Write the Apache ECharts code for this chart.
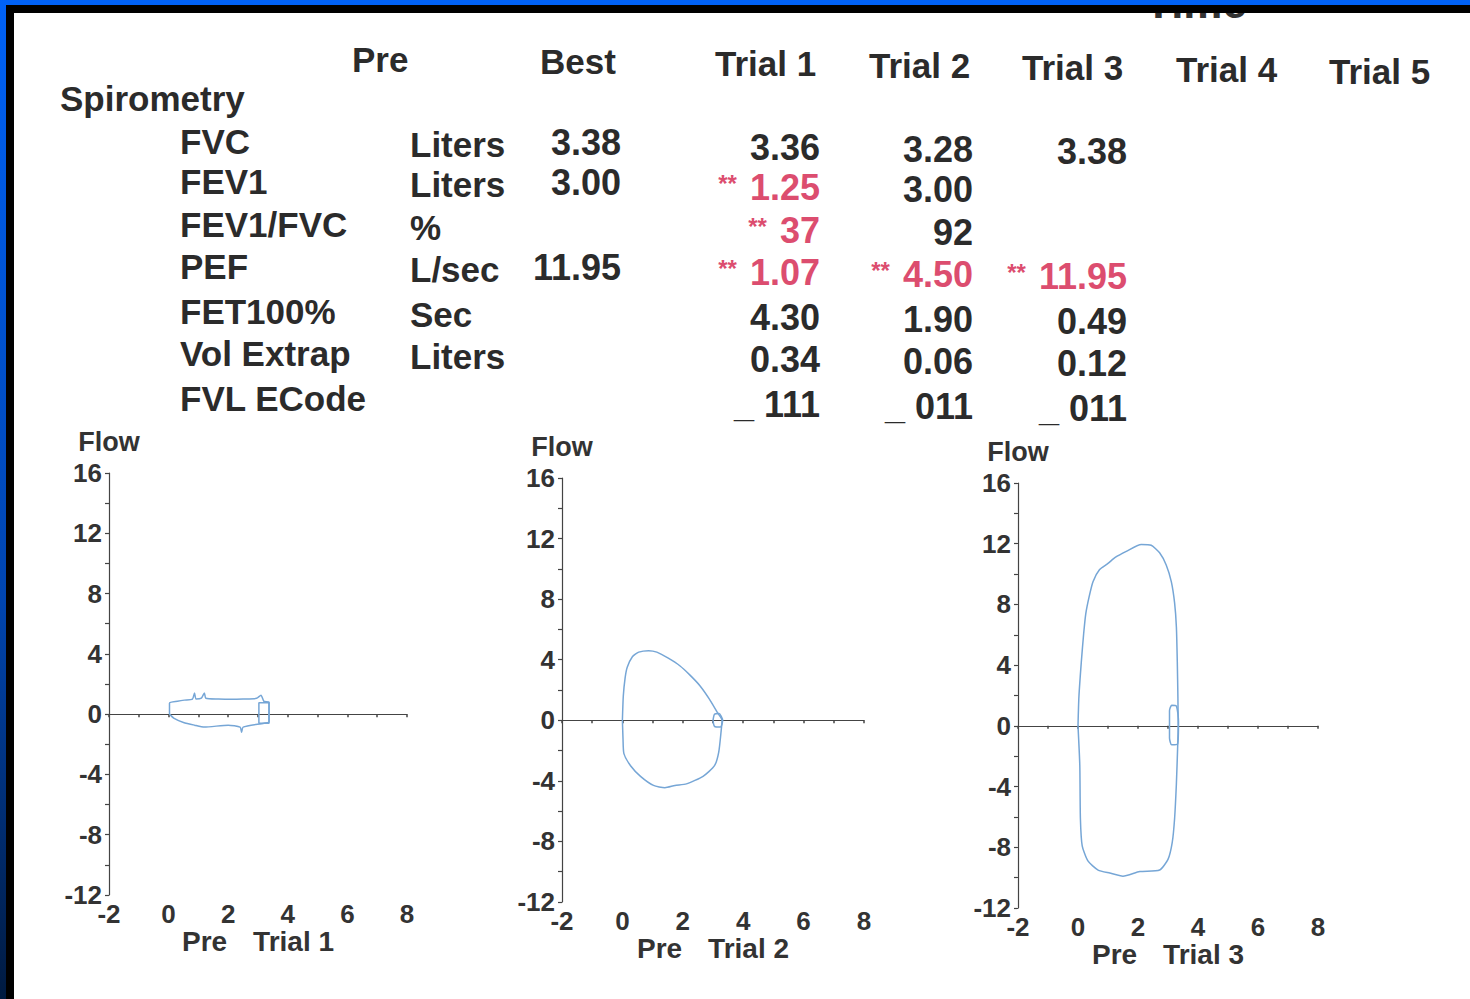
<!DOCTYPE html>
<html><head><meta charset="utf-8">
<script src="https://cdn.jsdelivr.net/npm/echarts@6/dist/echarts.min.js"></script>
<style>html,body{margin:0;padding:0;background:#fff;overflow:hidden}#c{width:1470px;height:999px}</style>
</head><body><div id="c"></div>
<script>
// ---------------- data ----------------
const topTitle = 'Time';
const headers = ['Pre', 'Best', 'Trial 1', 'Trial 2', 'Trial 3', 'Trial 4', 'Trial 5'];
const sectionTitle = 'Spirometry';
const rowLabels = ['FVC', 'FEV1', 'FEV1/FVC', 'PEF', 'FET100%', 'Vol Extrap', 'FVL ECode'];
const rowUnits = ['Liters', 'Liters', '%', 'L/sec', 'Sec', 'Liters', ''];
const bestValues = ['3.38', '3.00', '', '11.95', '', '', ''];
const trial1Values = ['3.36', '1.25', '37', '1.07', '4.30', '0.34', '_ 111'];
const trial2Values = ['3.28', '3.00', '92', '4.50', '1.90', '0.06', '_ 011'];
const trial3Values = ['3.38', '', '', '11.95', '0.49', '0.12', '_ 011'];
const trial1Flags = [0, 1, 1, 1, 0, 0, 0];
const trial2Flags = [0, 0, 0, 1, 0, 0, 0];
const trial3Flags = [0, 0, 0, 1, 0, 0, 0];
const flagMark = '**';

const chartNames = ['Trial 1', 'Trial 2', 'Trial 3'];
const preLabel = 'Pre';
const yName = 'Flow';
const xTickLabels = [-2, 0, 2, 4, 6, 8];
const yTickLabels = [-12, -8, -4, 0, 4, 8, 12, 16];

// flow-volume loops (volume in L, flow in L/s)
const trial1Volume = [0.03, 0.03, 0.30, 0.53, 0.80, 0.87, 0.92, 1.10, 1.20, 1.25, 1.67, 2.10, 2.50, 2.95, 3.10, 3.20, 3.37, 3.37, 3.20, 2.50, 2.45, 2.40, 2.00, 1.20, 0.87, 0.50, 0.17, 0.03];
const trial1Flow   = [0.00, 0.73, 0.85, 0.93, 1.00, 1.40, 1.00, 1.06, 1.40, 1.05, 1.00, 0.98, 1.00, 1.05, 1.26, 0.85, 0.80, -0.50, -0.60, -0.86, -1.20, -0.86, -0.73, -0.86, -0.73, -0.55, -0.26, 0.00];
const trial1TipVolume = [3.03, 3.03, 3.37, 3.37, 3.03, 3.03];
const trial1TipFlow   = [0.00, 0.75, 0.75, -0.60, -0.60, 0.00];

const trial2Volume = [0.00, 0.03, 0.09, 0.16, 0.33, 0.54, 0.87, 1.14, 1.52, 1.90, 2.23, 2.56, 2.88, 3.16, 3.30, 3.27, 3.19, 3.05, 2.67, 2.12, 1.74, 1.41, 1.03, 0.60, 0.27, 0.05, 0.02, 0.00];
const trial2Flow   = [0.00, 1.60, 2.80, 3.50, 4.20, 4.50, 4.60, 4.50, 4.10, 3.60, 3.00, 2.30, 1.40, 0.47, 0.00, -0.70, -2.10, -3.00, -3.70, -4.20, -4.30, -4.45, -4.30, -3.70, -3.00, -2.20, -1.20, 0.00];
const trial2TipVolume = [3.00, 3.05, 3.20, 3.32, 3.25, 3.05, 3.00];
const trial2TipFlow   = [0.00, 0.40, 0.45, 0.00, -0.45, -0.40, 0.00];

const trial3Volume = [0.00, 0.03, 0.11, 0.19, 0.26, 0.37, 0.50, 0.72, 1.00, 1.24, 1.61, 2.11, 2.44, 2.72, 2.94, 3.11, 3.22, 3.28, 3.31, 3.33, 3.34, 3.32, 3.28, 3.22, 3.14, 3.00, 2.72, 2.06, 1.50, 1.06, 0.67, 0.33, 0.14, 0.08, 0.06, 0.00];
const trial3Flow   = [0.00, 1.90, 4.20, 6.10, 7.40, 8.50, 9.50, 10.30, 10.70, 11.10, 11.50, 11.95, 11.90, 11.40, 10.60, 9.50, 8.10, 6.50, 4.20, 1.90, 0.00, -1.50, -3.80, -6.10, -7.70, -8.80, -9.50, -9.60, -9.90, -9.70, -9.50, -8.90, -7.90, -6.10, -2.60, 0.00];
const trial3TipVolume = [3.05, 3.05, 3.12, 3.28, 3.35, 3.32, 3.12, 3.05, 3.05];
const trial3TipFlow   = [0.00, 1.00, 1.35, 1.30, 0.30, -1.20, -1.25, -0.80, 0.00];

// ---------------- layout / style ----------------
const FONT = '"Liberation Sans", Arial, Helvetica, sans-serif';
const INK = '#2b2b2b';
const RED = '#dc4d6f';
const LOOP = '#76a6d6';
const AXIS = '#444';
const slope = 0.012;
const headerX = [352, 540, 715, 869, 1022, 1176, 1329];
const rowBase = [138.6, 178.6, 221.6, 263.6, 308.6, 350.6, 395.6];
const labelX = 180, unitX = 410, bestRight = 621;
const trialRight = [820, 973, 1127];
const grids = [
  {left: 109, top: 473, width: 298, height: 422},
  {left: 562, top: 478, width: 302, height: 424},
  {left: 1018, top: 483, width: 300, height: 425}
];

const graphics = [];
function txt(text, x, y, opts) {
  opts = opts || {};
  graphics.push({
    type: 'text', x: x, y: y, z: opts.z || 10, silent: true,
    style: Object.assign({
      text: text, fill: opts.fill || INK,
      font: 'bold ' + (opts.size || 35) + 'px ' + FONT,
      textAlign: opts.align || 'left', textVerticalAlign: opts.valign || 'middle'
    }, opts.rich ? {rich: opts.rich} : {})
  });
}
// partially hidden top title (covered by the frame, as in the source)
txt(topTitle, 1196, 24, {size: 44, align: 'center', valign: 'bottom', fill: '#333', z: 5});
// headers
headers.forEach((h, i) => txt(h, headerX[i], 54.5 + slope * (headerX[i] + 50), {}));
txt(sectionTitle, 60, 98, {});
rowLabels.forEach((l, r) => txt(l, labelX, rowBase[r] + slope * 260, {}));
rowUnits.forEach((u, r) => { if (u) txt(u, unitX, rowBase[r] + slope * 458, {}); });
bestValues.forEach((v, r) => { if (v) txt(v, bestRight, rowBase[r] + slope * 583 - 3, {align: 'right', size: 36}); });
const flagRich = {
  s: {fontSize: 24, fontWeight: 'bold', fontFamily: FONT, fill: RED, color: RED, verticalAlign: 'middle', padding: [0, 13, 8, 0]},
  v: {fontSize: 36, fontWeight: 'bold', fontFamily: FONT, fill: RED, color: RED}
};
[[trial1Values, trial1Flags], [trial2Values, trial2Flags], [trial3Values, trial3Flags]].forEach(([vals, flags], c) => {
  vals.forEach((v, r) => {
    if (!v) return;
    const y = rowBase[r] + slope * (trialRight[c] - 40);
    if (flags[r]) {
      txt('{s|' + flagMark + '}{v|' + v + '}', trialRight[c], y, {align: 'right', fill: RED, rich: flagRich});
    } else {
      txt(v, trialRight[c], y, {align: 'right', size: 36});
    }
  });
});
// frame
graphics.push({type: 'rect', z: 50, silent: true, shape: {x: 0, y: 0, width: 1470, height: 5}, style: {fill: '#0062f7'}});
graphics.push({type: 'rect', z: 50, silent: true, shape: {x: 0, y: 0, width: 6, height: 999},
  style: {fill: new echarts.graphic.LinearGradient(0, 0, 0, 1, [{offset: 0, color: '#0062f7'}, {offset: 0.6, color: '#0045b0'}, {offset: 1, color: '#001a40'}])}});
graphics.push({type: 'rect', z: 50, silent: true, shape: {x: 6, y: 5, width: 1464, height: 8}, style: {fill: '#000'}});
graphics.push({type: 'rect', z: 50, silent: true, shape: {x: 6, y: 5, width: 8, height: 994}, style: {fill: '#000'}});

// ---------------- charts ----------------
const loops = [
  [trial1Volume, trial1Flow, trial1TipVolume, trial1TipFlow],
  [trial2Volume, trial2Flow, trial2TipVolume, trial2TipFlow],
  [trial3Volume, trial3Flow, trial3TipVolume, trial3TipFlow]
];
const zip = (a, b) => a.map((x, i) => [x, b[i]]);
const labelStyle = {fontSize: 26, fontWeight: 'bold', fontFamily: FONT, color: '#333'};
const xAxes = [], yAxes = [], series = [];
grids.forEach((g, i) => {
  xAxes.push({
    gridIndex: i, type: 'value', min: -2, max: 8, interval: 1,
    axisLine: {show: true, onZero: true, lineStyle: {color: AXIS, width: 1.2}},
    axisTick: {show: true, length: 3, lineStyle: {color: AXIS, width: 1.5}},
    axisLabel: {show: false}, splitLine: {show: false}
  });
  xAxes.push({
    gridIndex: i, type: 'value', min: -2, max: 8, interval: 2, position: 'bottom',
    axisLine: {show: false, onZero: false}, axisTick: {show: false}, splitLine: {show: false},
    axisLabel: Object.assign({margin: 6, formatter: v => xTickLabels.includes(v) ? String(v) : ''}, labelStyle),
    name: '{p|' + preLabel + '}{t|' + chartNames[i] + '}', nameLocation: 'middle', nameGap: 20,
    nameTextStyle: {rich: {
      p: {fontSize: 28, fontWeight: 'bold', fontFamily: FONT, color: '#333'},
      t: {fontSize: 28, fontWeight: 'bold', fontFamily: FONT, color: '#333', padding: [0, 0, 0, 26]}
    }}
  });
  yAxes.push({
    gridIndex: i, type: 'value', min: -12, max: 16, interval: 2,
    axisLine: {show: true, onZero: false, lineStyle: {color: AXIS, width: 1.2}},
    axisTick: {show: true, length: 4, lineStyle: {color: AXIS, width: 1.2}},
    axisLabel: Object.assign({margin: 7, formatter: v => yTickLabels.includes(v) ? String(v) : ''}, labelStyle),
    splitLine: {show: false},
    name: yName, nameLocation: 'end', nameGap: 18,
    nameTextStyle: {fontSize: 27, fontWeight: 'bold', fontFamily: FONT, color: '#333'}
  });
  const [vol, flow, tv, tf] = loops[i];
  series.push({type: 'line', xAxisIndex: 2 * i, yAxisIndex: i, data: zip(vol, flow), showSymbol: false, smooth: 0.2,
    lineStyle: {color: LOOP, width: 1.5}, silent: true, z: 3});
  series.push({type: 'line', xAxisIndex: 2 * i, yAxisIndex: i, data: zip(tv, tf), showSymbol: false, smooth: 0.2,
    lineStyle: {color: LOOP, width: 1.5}, silent: true, z: 3});
});

const chart = echarts.init(document.getElementById('c'), null, {renderer: 'svg', width: 1470, height: 999});
chart.setOption({
  backgroundColor: '#fff',
  animation: false,
  grid: grids.map(g => Object.assign({containLabel: false}, g)),
  xAxis: xAxes, yAxis: yAxes, series: series,
  graphic: graphics
});
</script>
</body></html>
